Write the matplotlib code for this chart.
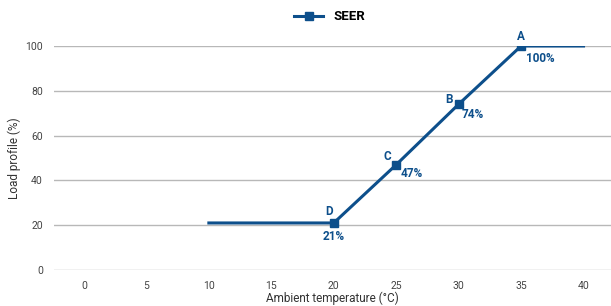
import matplotlib.pyplot as plt

temps = [10, 20, 25, 30, 35, 40]
load = [21, 21, 47, 74, 100, 100]
mark_temps = [20, 25, 30, 35]
mark_load = [21, 47, 74, 100]
letters = ['D', 'C', 'B', 'A']
pcts = ['21%', '47%', '74%', '100%']
xticks = [0, 5, 10, 15, 20, 25, 30, 35, 40]
yticks = [0, 20, 40, 60, 80, 100]

blue = '#0d4f8b'
plt.rcParams['font.family'] = ['Roboto', 'DejaVu Sans']

fig = plt.figure(figsize=(6.11, 3.06), dpi=100)
ax = fig.add_axes([54 / 611, 36 / 306, 557 / 611, 224 / 306])

ax.plot(temps, load, color=blue, lw=2.2, zorder=3)
ax.plot(mark_temps, mark_load, ls='none', marker='s', ms=6, color=blue, zorder=4)
# legend handle
ax.plot([], [], color=blue, lw=2.2, marker='s', ms=6, label='SEER')

# letter offsets / percent offsets in px
let_off = [(-5, 11), (-9, 8), (-10, 5), (0, 10)]
pct_off = [(0, -14), (16, -9), (14, -10), (19, -12)]
for x, y, l, p, lo, po in zip(mark_temps, mark_load, letters, pcts, let_off, pct_off):
    ax.annotate(l, (x, y), xytext=(lo[0] * 0.72, lo[1] * 0.72), textcoords='offset points',
                ha='center', va='center', color=blue, fontsize=8.5, fontweight='bold')
    ax.annotate(p, (x, y), xytext=(po[0] * 0.72, po[1] * 0.72), textcoords='offset points',
                ha='center', va='center', color=blue, fontsize=8.5, fontweight='bold')

ax.set_xlim(-2.4, 42.2)
ax.set_ylim(0, 100)
ax.set_xticks(xticks)
ax.set_yticks(yticks)
ax.set_yticklabels([str(v) for v in yticks])
ax.grid(axis='y', color='#b8b8b8', lw=1)
ax.set_axisbelow(True)
for s in ax.spines.values():
    s.set_visible(False)
ax.tick_params(length=0, labelsize=7.5, labelcolor='#444444')
ax.tick_params(axis='y', pad=8)
ax.tick_params(axis='x', pad=8)
ax.set_xlabel('Ambient temperature (°C)', fontsize=8.5, color='#333333', va='center')
ax.set_ylabel('Load profile (%)', fontsize=8.5, color='#333333', va='center')
ax.xaxis.set_label_coords(0.499, -0.125)
ax.yaxis.set_label_coords(-0.072, 0.5)

leg = fig.legend(loc='center', bbox_to_anchor=(0.54, 0.945), frameon=False,
                 prop={'weight': 'bold', 'size': 9.5}, handlelength=2.2)

fig.savefig('out.png', dpi=100)
